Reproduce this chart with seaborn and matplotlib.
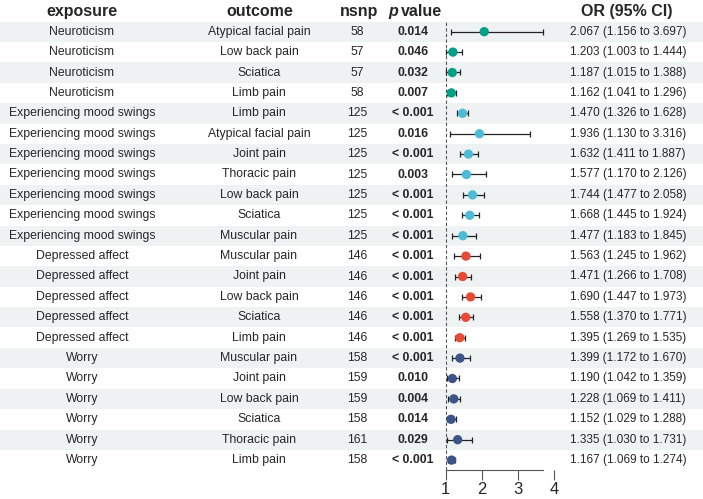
import pandas as pd
import seaborn as sns
import numpy as np
import matplotlib.pyplot as plt

# data
exposure = (["Neuroticism"] * 4 + ["Experiencing mood swings"] * 7
            + ["Depressed affect"] * 5 + ["Worry"] * 6)
outcome = ["Atypical facial pain", "Low back pain", "Sciatica", "Limb pain",
           "Limb pain", "Atypical facial pain", "Joint pain", "Thoracic pain",
           "Low back pain", "Sciatica", "Muscular pain",
           "Muscular pain", "Joint pain", "Low back pain", "Sciatica", "Limb pain",
           "Muscular pain", "Joint pain", "Low back pain", "Sciatica",
           "Thoracic pain", "Limb pain"]
nsnp = [58, 57, 57, 58, 125, 125, 125, 125, 125, 125, 125,
        146, 146, 146, 146, 146, 158, 159, 159, 158, 161, 158]
pval = ["0.014", "0.046", "0.032", "0.007",
        "< 0.001", "0.016", "< 0.001", "0.003", "< 0.001", "< 0.001", "< 0.001",
        "< 0.001", "< 0.001", "< 0.001", "< 0.001", "< 0.001",
        "< 0.001", "0.010", "0.004", "0.014", "0.029", "< 0.001"]
or_val = [2.067, 1.203, 1.187, 1.162, 1.470, 1.936, 1.632, 1.577, 1.744, 1.668, 1.477,
          1.563, 1.471, 1.690, 1.558, 1.395, 1.399, 1.190, 1.228, 1.152, 1.335, 1.167]
ci_lo = [1.156, 1.003, 1.015, 1.041, 1.326, 1.130, 1.411, 1.170, 1.477, 1.445, 1.183,
         1.245, 1.266, 1.447, 1.370, 1.269, 1.172, 1.042, 1.069, 1.029, 1.030, 1.069]
ci_hi = [3.697, 1.444, 1.388, 1.296, 1.628, 3.316, 1.887, 2.126, 2.058, 1.924, 1.845,
         1.962, 1.708, 1.973, 1.771, 1.535, 1.670, 1.359, 1.411, 1.288, 1.731, 1.274]
xticks = [1, 2, 3, 4]

palette = {"Neuroticism": "#00A087", "Experiencing mood swings": "#4DBBD5",
           "Depressed affect": "#E64B35", "Worry": "#3C5488"}

df = pd.DataFrame({"exposure": exposure, "outcome": outcome, "nsnp": nsnp,
                   "p": pval, "OR": or_val, "lo": ci_lo, "hi": ci_hi})
df["row"] = np.arange(len(df))
df["label"] = [f"{o:.3f} ({l:.3f} to {h:.3f})" for o, l, h in zip(df.OR, df.lo, df.hi)]

sns.set_style("white")
plt.rcParams['font.family'] = ['Liberation Sans', 'DejaVu Sans']

W, H = 703, 499
fig = plt.figure(figsize=(W / 100, H / 100), dpi=100)

# table layer in pixel coords
tab = fig.add_axes([0, 0, 1, 1])
tab.set_xlim(0, W)
tab.set_ylim(H, 0)
tab.axis("off")

fs = 8.8
y0, dy = 31.7, 20.4
for i, r in df.iterrows():
    y = y0 + dy * r.row
    if r.row % 2 == 0:
        tab.axhspan(y - dy / 2, y + dy / 2, xmin=0, xmax=1, color="#EEF2F2", lw=0, zorder=0)
    tab.text(82, y, r.exposure, ha="center", va="center", fontsize=fs)
    tab.text(259, y, r.outcome, ha="center", va="center", fontsize=fs)
    tab.text(357, y, str(r.nsnp), ha="center", va="center", fontsize=fs)
    tab.text(413, y, r.p, ha="center", va="center", fontsize=fs, fontweight="bold")
    tab.text(628, y, r.label, ha="center", va="center", fontsize=8.5)

hy = 11
tab.text(82, hy, "exposure", ha="center", va="center", fontsize=11.5, fontweight="bold")
tab.text(260, hy, "outcome", ha="center", va="center", fontsize=11.5, fontweight="bold")
tab.text(359, hy, "nsnp", ha="center", va="center", fontsize=11.5, fontweight="bold")
tab.text(398, hy, "p", ha="right", va="center", fontsize=11.5, fontweight="bold", style="italic")
tab.text(401, hy, "value", ha="left", va="center", fontsize=11.5, fontweight="bold")
tab.text(627, hy, "OR (95% CI)", ha="center", va="center", fontsize=11.5, fontweight="bold")

# forest layer
left_px, right_px, top_px, bot_px = 420, 570, 20, 470
x1_px, unit = 445.5, 36.27
ax = fig.add_axes([left_px / W, (H - bot_px) / H, (right_px - left_px) / W, (bot_px - top_px) / H])
ax.patch.set_alpha(0)
ax.set_xlim(1 - (x1_px - left_px) / unit, 1 + (right_px - x1_px) / unit)
ax.set_ylim((bot_px - y0) / dy, (top_px - y0) / dy)

ax.axvline(1, color="#555555", lw=0.8, ls=(0, (3, 2)), zorder=1)
ax.errorbar(df.OR, df.row, xerr=[df.OR - df.lo, df.hi - df.OR], fmt="none",
            ecolor="#222222", elinewidth=0.9, capsize=2.5, capthick=0.9, zorder=2)
sns.scatterplot(data=df, x="OR", y="row", hue="exposure", palette=palette,
                s=45, edgecolor="none", legend=False, ax=ax, zorder=3)

ax.set_xlabel("")
ax.set_ylabel("")
ax.set_yticks([])
ax.set_xticks(xticks)
ax.set_xticklabels([str(t) for t in xticks], fontsize=12)
for s in ["top", "right", "left"]:
    ax.spines[s].set_visible(False)
ax.spines["bottom"].set_bounds(min(ci_lo), max(ci_hi))
ax.spines["bottom"].set_color("#555555")
ax.spines["bottom"].set_linewidth(0.8)
ax.tick_params(axis="x", bottom=True, length=7, width=0.8, color="#555555", pad=2)

fig.savefig("out.png", dpi=100)
